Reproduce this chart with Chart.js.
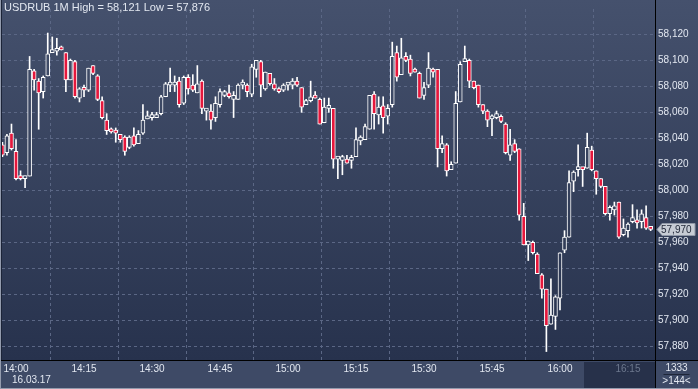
<!DOCTYPE html>
<html>
<head>
<meta charset="utf-8">
<script src="https://cdn.jsdelivr.net/npm/chart.js@4/dist/chart.umd.min.js"></script>
<style>
  html, body { margin: 0; padding: 0; background: #2f3a55; overflow: hidden; }
  canvas { display: block; }
</style>
</head>
<body>
<canvas id="chart" width="698" height="389"></canvas>
<script>
// USDRUB, 1 minute candles, 13:57 .. 16:20 on 16.03.17
var symbol = 'USDRUB 1M'
var dateLabel = '16.03.17'
var firstMinute = -3   // minutes from 14:00 of the first candle
var barCount = '1333'

var opens = [58.035,58.029,58.044,58.030,58.011,58.009,58.011,58.092,58.084,58.076,58.088,58.106,58.107,58.110,58.106,58.085,58.099,58.071,58.079,58.077,
  58.096,58.088,58.069,58.054,58.047,58.045,58.043,58.041,58.033,58.042,58.036,58.044,58.055,58.056,58.056,58.059,58.072,58.081,58.081,58.084,
  58.067,58.087,58.081,58.075,58.084,58.061,58.061,58.056,58.066,58.073,58.075,58.070,58.070,58.081,58.081,58.074,58.093,58.099,58.078,58.090,
  58.082,58.078,58.077,58.081,58.081,58.084,58.079,58.066,58.069,58.073,58.070,58.052,58.063,58.063,58.024,58.023,58.024,58.023,58.026,58.038,
  58.039,58.047,58.074,58.058,58.065,58.057,58.066,58.106,58.089,58.103,58.101,58.093,58.090,58.073,58.081,58.093,58.093,58.032,58.035,58.016,
  58.021,58.068,58.099,58.100,58.084,58.081,58.066,58.061,58.055,58.056,58.057,58.051,58.027,58.036,58.032,57.980,57.958,57.960,57.951,57.935,
  57.924,57.897,57.903,57.917,57.954,57.964,58.007,58.016,58.017,58.017,58.031,58.015,58.009,58.003,57.982,57.985,57.991,57.966,57.969,57.976,
  57.977,57.976,57.979,57.972]
var highs = [58.037,58.043,58.051,58.039,58.015,58.011,58.103,58.093,58.086,58.088,58.121,58.118,58.117,58.111,58.106,58.101,58.100,58.079,58.081,58.094,
  58.096,58.089,58.072,58.059,58.048,58.048,58.043,58.042,58.042,58.048,58.046,58.066,58.061,58.060,58.060,58.073,58.083,58.094,58.088,58.087,
  58.088,58.089,58.089,58.096,58.085,58.063,58.066,58.072,58.078,58.077,58.081,58.076,58.082,58.085,58.082,58.097,58.100,58.100,58.091,58.090,
  58.086,58.079,58.082,58.083,58.086,58.087,58.079,58.070,58.084,58.076,58.071,58.071,58.071,58.063,58.026,58.027,58.027,58.027,58.048,58.042,
  58.051,58.073,58.076,58.072,58.072,58.066,58.114,58.111,58.117,58.106,58.104,58.094,58.091,58.083,58.106,58.094,58.093,58.042,58.036,58.022,
  58.076,58.099,58.111,58.101,58.084,58.081,58.066,58.062,58.058,58.061,58.058,58.052,58.047,58.039,58.032,57.990,57.961,57.961,57.952,57.936,
  57.924,57.932,57.919,57.952,57.969,58.015,58.015,58.035,58.017,58.044,58.034,58.015,58.009,58.003,57.988,57.991,57.991,57.978,57.975,57.989,
  57.985,57.985,57.988,57.972]
var lows = [58.026,58.027,58.031,58.008,58.008,58.002,58.011,58.077,58.047,58.071,58.088,58.106,58.104,58.108,58.076,58.085,58.071,58.068,58.072,58.076,
  58.089,58.069,58.055,58.043,58.044,58.037,58.037,58.027,58.032,58.034,58.036,58.043,58.055,58.054,58.056,58.058,58.072,58.076,58.076,58.064,
  58.066,58.074,58.076,58.075,58.059,58.054,58.047,58.053,58.064,58.072,58.071,58.056,58.070,58.078,58.072,58.072,58.087,58.072,58.077,58.081,
  58.077,58.075,58.076,58.077,58.078,58.080,58.060,58.066,58.068,58.071,58.051,58.052,58.060,58.017,58.009,58.012,58.021,58.017,58.026,58.035,
  58.039,58.047,58.047,58.051,58.044,58.051,58.064,58.084,58.089,58.099,58.088,58.091,58.071,58.070,58.079,58.087,58.018,58.029,58.011,58.016,
  58.021,58.068,58.099,58.079,58.078,58.064,58.059,58.049,58.042,58.055,58.052,58.028,58.023,58.029,57.977,57.958,57.946,57.951,57.936,57.917,
  57.876,57.897,57.893,57.908,57.952,57.964,57.999,58.011,58.003,58.017,58.015,57.997,58.002,57.981,57.977,57.981,57.963,57.965,57.964,57.975,
  57.971,57.971,57.970,57.969]
var closes = [58.027,58.042,58.032,58.009,58.009,58.011,58.093,58.085,58.075,58.087,58.105,58.108,58.109,58.108,58.085,58.100,58.072,58.078,58.077,58.094,
  58.090,58.070,58.056,58.046,58.045,58.044,58.039,58.030,58.041,58.035,58.043,58.054,58.056,58.057,58.058,58.072,58.082,58.082,58.082,58.066,
  58.087,58.078,58.077,58.082,58.063,58.061,58.054,58.067,58.076,58.076,58.072,58.073,58.081,58.081,58.076,58.095,58.100,58.081,58.091,58.082,
  58.078,58.076,58.081,58.081,58.084,58.081,58.064,58.069,58.072,58.071,58.051,58.064,58.063,58.024,58.024,58.026,58.021,58.025,58.039,58.041,
  58.049,58.073,58.059,58.064,58.056,58.063,58.103,58.087,58.102,58.100,58.090,58.091,58.071,58.079,58.094,58.091,58.032,58.036,58.015,58.020,
  58.067,58.097,58.101,58.084,58.079,58.066,58.061,58.054,58.055,58.059,58.053,58.029,58.035,58.030,57.981,57.958,57.961,57.952,57.936,57.924,
  57.896,57.904,57.918,57.952,57.964,58.006,58.014,58.016,58.016,58.033,58.016,58.009,58.003,57.982,57.987,57.988,57.964,57.971,57.974,57.979,
  57.975,57.982,57.971,57.970]

var timeTicks = [0, 15, 30, 45, 60, 75, 90, 105, 120, 135]
var timeLabels = ['14:00','14:15','14:30','14:45','15:00','15:15','15:30','15:45','16:00','16:15']
var priceTicks = [57.88, 57.90, 57.92, 57.94, 57.96, 57.98, 58.00, 58.02, 58.04, 58.06, 58.08, 58.10, 58.12]

var fmt = function (v) { return v.toFixed(3).replace('.', ',') }

var canvas = document.getElementById('chart')
var ctx = canvas.getContext('2d')
var plotGrad = ctx.createLinearGradient(0, 0, 0, 360)
plotGrad.addColorStop(0, '#45516d')
plotGrad.addColorStop(1, '#27324d')

var wicks = [], bodies = []
for (var i = 0; i < closes.length; i++) {
  wicks.push({ x: firstMinute + i, y: [lows[i], highs[i]] })
  bodies.push({ x: firstMinute + i, y: [opens[i], closes[i]] })
}
var isUp = function (i) { return closes[i] >= opens[i] }

var font = "'Liberation Sans', Arial, sans-serif"

var decor = {
  id: 'decor',
  beforeDraw(chart) {
    var c = chart.ctx, a = chart.chartArea
    c.save()
    c.fillStyle = plotGrad
    c.fillRect(0, 0, chart.width, a.bottom)
    c.fillStyle = '#3e4a66'
    c.fillRect(0, a.bottom, chart.width, chart.height - a.bottom)
    c.fillStyle = '#27314a'
    c.fillRect(584, a.bottom + 2, a.right - 584, chart.height - a.bottom - 3)
    c.restore()
  },
  afterDraw(chart) {
    var c = chart.ctx, a = chart.chartArea
    var xs = chart.scales.x, ys = chart.scales.y
    c.save()
    // header
    var hi = Math.max.apply(null, highs), lo = Math.min.apply(null, lows)
    c.font = '11px ' + font
    c.fillStyle = '#e2e7f0'
    c.textBaseline = 'middle'
    c.fillText(symbol + ' High = ' + fmt(hi) + ' Low = ' + fmt(lo), 4, 8)
    // date under first time label
    c.font = '10px ' + font
    c.fillText(dateLabel, xs.getPixelForValue(0) - 4, 380)
    // last price tag
    var last = closes[closes.length - 1]
    var py = Math.round(ys.getPixelForValue(last)) + 0.5
    c.fillStyle = '#c6cbd4'
    c.strokeStyle = '#8f97a6'
    c.beginPath()
    c.moveTo(a.right + 2, py)
    c.lineTo(a.right + 7, py - 6)
    c.lineTo(chart.width - 3, py - 6)
    c.lineTo(chart.width - 3, py + 6)
    c.lineTo(a.right + 7, py + 6)
    c.closePath()
    c.fill()
    c.stroke()
    c.fillStyle = '#1d2435'
    c.fillText(fmt(last), a.right + 6, py + 0.5)
    // borders
    c.fillStyle = '#000'
    c.fillRect(0, a.bottom, chart.width, 1)
    c.fillRect(a.right, 0, 1, chart.height)
    c.fillStyle = '#939bad'
    c.fillRect(0, 0, 1, chart.height)
    c.fillRect(0, chart.height - 1, chart.width, 1)
    c.fillStyle = '#1c2438'
    c.fillRect(1, 0, 1, a.bottom)
    // bar counter box
    var cx = (a.right + chart.width) / 2
    c.fillStyle = '#e2e7f0'
    c.textAlign = 'center'
    c.fillText(barCount, cx, 368)
    c.fillText('>' + closes.length + '<', cx, 381)
    c.fillStyle = '#1e2639'
    c.fillRect(cx - 13, 374, 26, 1)
    c.restore()
  }
}

new Chart(canvas, {
  type: 'bar',
  data: {
    datasets: [
      {
        data: bodies,
        order: 0,
        grouped: false,
        barThickness: 4,
        minBarLength: 3,
        borderWidth: 1,
        borderSkipped: false,
        borderColor: '#ffffff',
        backgroundColor: function (c) { return isUp(c.dataIndex) ? plotGrad : '#e5173c' }
      },
      {
        data: wicks,
        order: 1,
        grouped: false,
        barThickness: 1,
        borderWidth: 0,
        backgroundColor: '#ffffff'
      }
    ]
  },
  options: {
    responsive: false,
    animation: false,
    events: [],
    layout: { padding: { left: 2, top: 0, right: 0, bottom: 0 } },
    plugins: { legend: { display: false }, tooltip: { enabled: false } },
    scales: {
      x: {
        type: 'linear',
        position: 'bottom',
        min: -3.09,
        max: 140.96,
        offset: false,
        afterBuildTicks: function (s) { s.ticks = timeTicks.map(function (v) { return { value: v } }) },
        afterFit: function (s) { s.height = 29 },
        ticks: {
          autoSkip: false,
          maxRotation: 0,
          padding: 3,
          font: { family: font, size: 10 },
          color: function (c) { return c.tick && c.tick.value === 135 ? '#6d788e' : '#e2e7f0' },
          callback: function (v) { return timeLabels[timeTicks.indexOf(v)] }
        },
        grid: { color: '#5b6785', drawTicks: false },
        border: { color: '#000000', dash: [3, 3] }
      },
      y: {
        type: 'linear',
        position: 'right',
        min: 57.8695,
        max: 58.1395,
        afterBuildTicks: function (s) { s.ticks = priceTicks.map(function (v) { return { value: v } }) },
        afterFit: function (s) { s.width = 43 },
        ticks: {
          padding: 3,
          font: { family: font, size: 10 },
          color: '#e2e7f0',
          callback: function (v) { return fmt(v) }
        },
        grid: { color: '#5b6785', drawTicks: false },
        border: { color: '#000000', dash: [3, 3] }
      }
    }
  },
  plugins: [decor]
})
</script>
</body>
</html>
